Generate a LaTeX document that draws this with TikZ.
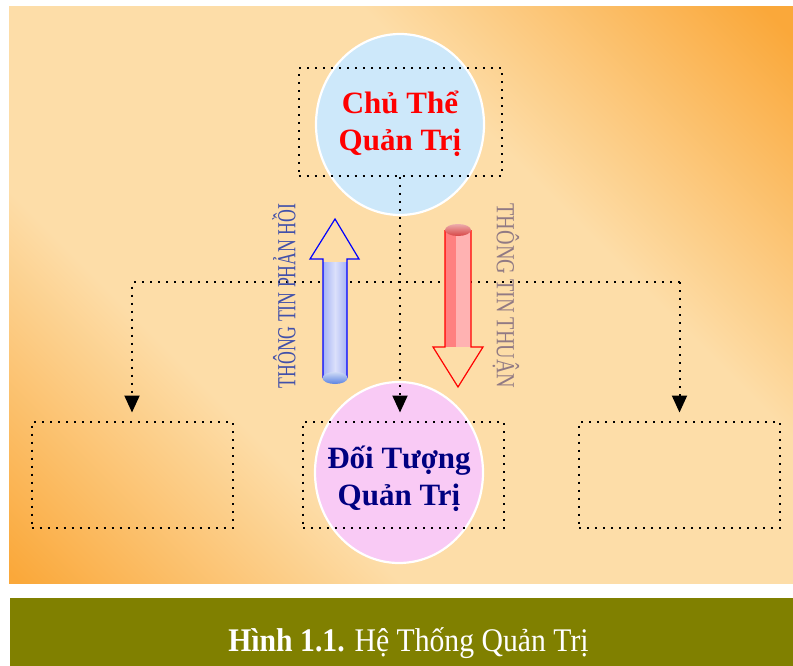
\documentclass[tikz,border=0pt]{standalone}
\usepackage{fontspec}
\setmainfont{Liberation Serif}
\usepackage{graphicx}
\usepackage{xcolor}
\usetikzlibrary{arrows.meta, shapes.geometric}

\definecolor{peach}{RGB}{253,221,168}
\definecolor{deeporange}{RGB}{250,168,58}
\definecolor{olivebar}{RGB}{128,128,0}
\definecolor{skyfill}{RGB}{205,232,250}
\definecolor{pinkfill}{RGB}{249,202,245}
\definecolor{navytext}{RGB}{0,0,128}
\definecolor{lavender}{RGB}{165,178,245}
\definecolor{capblue}{RGB}{90,130,225}
\definecolor{reddark}{RGB}{255,128,128}
\definecolor{redlight}{RGB}{255,178,178}
\definecolor{capred}{RGB}{215,70,70}
\definecolor{feedbacktext}{RGB}{65,80,170}
\definecolor{forwardtext}{RGB}{145,122,132}

\pgfdeclareverticalshading{glow}{100bp}{color(0bp)=(deeporange); color(15bp)=(deeporange);
  color(35bp)=(peach); color(63bp)=(peach); color(84bp)=(deeporange); color(100bp)=(deeporange)}

\tikzset{
  dotline/.style={line width=2pt, dash pattern=on 2pt off 6pt},
  dotbox/.style={dotline, draw, minimum width=201pt, minimum height=106pt},
  bubble/.style={ellipse, draw=white, line width=2.2pt, inner sep=0pt,
    minimum width=168pt, minimum height=181pt},
  bubbletext/.style={align=center, font=\bfseries\fontsize{31}{37}\selectfont},
  downtip/.style={-{Triangle[width=15pt,length=17pt]}},
  sidetext/.style={font=\fontsize{26}{26}\selectfont, inner sep=0pt}
}

\begin{document}
\begin{tikzpicture}[x=1pt, y=-1pt]
  \useasboundingbox (0,0) rectangle (793,666);
  \fill[white] (0,0) rectangle (793,666);
  \shade[shading=glow, shading angle=-45] (9,7) rectangle (793,583);
  \fill[olivebar] (10,598) rectangle (793,666);

  \node[bubble, fill=skyfill] (manager) at (400,124.5) {};
  \node[bubble, fill=pinkfill] (managed) at (399,472.5) {};
  \node[bubbletext, text=red] (managerlabel) at ([yshift=1pt]manager) {Chủ Thể\\Quản Trị};
  \node[bubbletext, text=navytext] (managedlabel) at ([yshift=-6pt]managed) {Đối Tượng\\Quản Trị};

  \node[dotbox, minimum width=203pt, minimum height=108pt] (managerbox) at (400,122) {};
  \node[dotbox] (leftbox) at (132,474.5) {};
  \node[dotbox] (midbox) at (403.5,474.5) {};
  \node[dotbox] (rightbox) at (679.5,474.5) {};

  \coordinate (splitL) at (132,282);
  \coordinate (splitR) at (679.5,282);
  \draw[dotline, downtip] (managerbox.south) -- ([yshift=8pt]midbox.north -| managerbox.south);
  \draw[dotline, downtip] (splitR) -- (splitL) -- ([yshift=8pt]leftbox.north);
  \draw[dotline, downtip] (splitR) -- ([yshift=8pt]rightbox.north);

  \node[sidetext, rotate=90, text=feedbacktext] (feedback) at (284,296) {\scalebox{0.683}[1]{THÔNG TIN PHẢN HỒI}};
  \node[sidetext, rotate=-90, text=forwardtext] (forward) at (506,296) {\scalebox{0.776}[1]{THÔNG TIN THUẬN}};

  \shade[left color=lavender, right color=lavender, middle color=white!60!lavender]
    (323,262) rectangle (347,378);
  \draw[blue, line width=1.2pt] (323,378) -- (323,259) -- (310,259) -- (335,219)
    -- (359,259) -- (347,259) -- (347,378);
  \shade[top color=white!70!capblue, bottom color=capblue] (335,378) ellipse [x radius=12.5, y radius=6];

  \fill[redlight] (445,230) rectangle (471,347);
  \fill[reddark] (445,230) rectangle (456,347);
  \draw[red, line width=1.2pt] (445,230) -- (445,347) -- (433,347) -- (458,387)
    -- (483,347) -- (471,347) -- (471,230);
  \shade[top color=white!55!capred, bottom color=capred] (458,230) ellipse [x radius=13, y radius=6];

  \node[anchor=base, text=white, font=\fontsize{33}{33}\selectfont] (caption) at (408.5,651)
    {\scalebox{0.9}[1]{\textbf{Hình 1.1.} Hệ Thống Quản Trị}};
\end{tikzpicture}
\end{document}
